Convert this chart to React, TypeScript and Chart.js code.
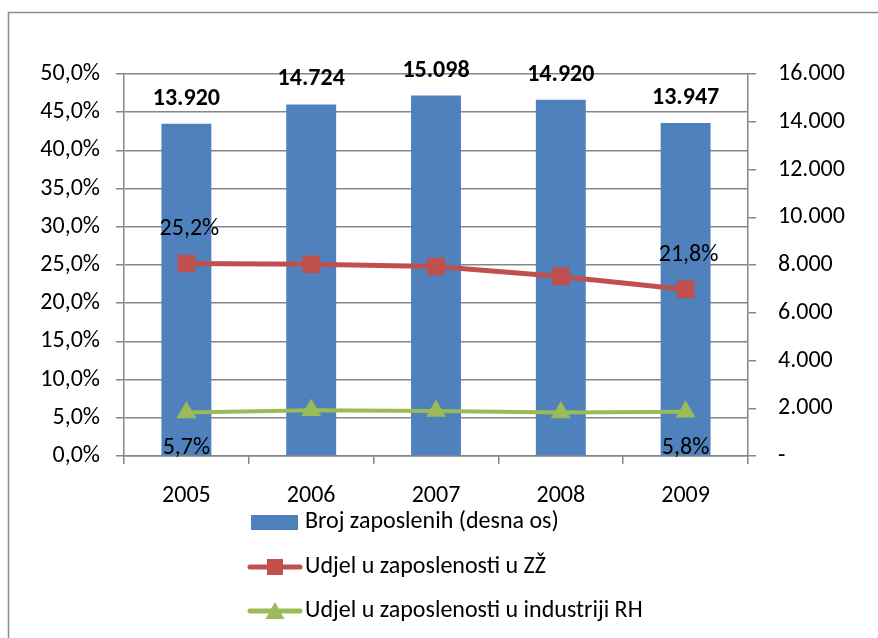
import React, { useEffect, useRef } from "react";
import { Chart, registerables } from "chart.js";

Chart.register(...registerables);

const categories = ["2005", "2006", "2007", "2008", "2009"];
const employees = [13920, 14724, 15098, 14920, 13947];
const shareZZ = [25.2, 25.1, 24.8, 23.5, 21.8];
const shareIndustry = [5.7, 6.0, 5.9, 5.7, 5.8];
const seriesNames = [
  "Broj zaposlenih (desna os)",
  "Udjel u zaposlenosti u ZŽ",
  "Udjel u zaposlenosti u industriji RH",
];
const leftTicks = [0, 5, 10, 15, 20, 25, 30, 35, 40, 45, 50];
const rightTicks = [0, 2000, 4000, 6000, 8000, 10000, 12000, 14000, 16000];

const BLUE = "#4F81BD";
const RED = "#C0504D";
const GREEN = "#9BBB59";
const GRID = "#868686";
const FONT = "Carlito, Lato, sans-serif";
const FS = 24;

const fmtPct = (v: number) => v.toFixed(1).replace(".", ",") + "%";
const fmtNum = (v: number) =>
  v === 0 ? "-" : Math.round(v).toString().replace(/\B(?=(\d{3})+(?!\d))/g, ".");

const labelsPlugin = {
  id: "customLabels",
  afterDatasetsDraw(chart: any) {
    const ctx = chart.ctx;
    ctx.save();
    ctx.fillStyle = "#000";
    ctx.textAlign = "center";
    ctx.textBaseline = "middle";
    const barMeta = chart.getDatasetMeta(0);
    ctx.font = `bold ${FS}px ${FONT}`;
    barMeta.data.forEach((el: any, i: number) => {
      ctx.fillText(fmtNum(employees[i]), el.x, el.y - 25);
    });
    ctx.font = `${FS}px ${FONT}`;
    const redMeta = chart.getDatasetMeta(1);
    [0, shareZZ.length - 1].forEach((i) => {
      const el = redMeta.data[i];
      ctx.fillText(fmtPct(shareZZ[i]), el.x + 3, el.y - 34);
    });
    const greenMeta = chart.getDatasetMeta(2);
    [0, shareIndustry.length - 1].forEach((i) => {
      const el = greenMeta.data[i];
      ctx.fillText(fmtPct(shareIndustry[i]), el.x, el.y + 36);
    });
    ctx.restore();
  },
  afterDraw(chart: any) {
    const ctx = chart.ctx;
    const w = chart.width;
    const h = chart.height;
    ctx.save();
    ctx.strokeStyle = "#8c8c8c";
    ctx.lineWidth = 1.5;
    ctx.beginPath();
    ctx.moveTo(8.5, h);
    ctx.lineTo(8.5, 12.5);
    ctx.lineTo(w, 12.5);
    ctx.stroke();
    const x0 = 250;
    const tx = 305;
    const ys = [522, 567, 611];
    ctx.font = `${FS}px ${FONT}`;
    ctx.textAlign = "left";
    ctx.textBaseline = "middle";
    ctx.fillStyle = BLUE;
    ctx.fillRect(x0 + 1, ys[0] - 7, 47, 15);
    ctx.lineCap = "round";
    ctx.strokeStyle = RED;
    ctx.lineWidth = 5;
    ctx.beginPath();
    ctx.moveTo(x0, ys[1]);
    ctx.lineTo(x0 + 50, ys[1]);
    ctx.stroke();
    ctx.fillStyle = RED;
    ctx.fillRect(x0 + 25 - 8, ys[1] - 8, 16, 16);
    ctx.strokeStyle = GREEN;
    ctx.beginPath();
    ctx.moveTo(x0, ys[2]);
    ctx.lineTo(x0 + 50, ys[2]);
    ctx.stroke();
    ctx.fillStyle = GREEN;
    ctx.beginPath();
    ctx.moveTo(x0 + 25, ys[2] - 9);
    ctx.lineTo(x0 + 25 + 9.5, ys[2] + 8);
    ctx.lineTo(x0 + 25 - 9.5, ys[2] + 8);
    ctx.closePath();
    ctx.fill();
    ctx.fillStyle = "#000";
    seriesNames.forEach((n, i) => ctx.fillText(n, tx, ys[i]));
    ctx.restore();
  },
};

export default function App() {
  const ref = useRef<HTMLCanvasElement | null>(null);
  useEffect(() => {
    if (!ref.current) return;
    const chart = new Chart(ref.current, {
      type: "bar",
      data: {
        labels: categories,
        datasets: [
          {
            type: "bar",
            label: seriesNames[0],
            data: employees,
            backgroundColor: BLUE,
            yAxisID: "y1",
            order: 2,
            categoryPercentage: 1,
            barPercentage: 0.4,
          },
          {
            type: "line",
            label: seriesNames[1],
            data: shareZZ,
            borderColor: RED,
            backgroundColor: RED,
            borderWidth: 5,
            pointStyle: "rect",
            pointRadius: 12.5,
            pointBorderWidth: 0,
            yAxisID: "y",
            order: 1,
          },
          {
            type: "line",
            label: seriesNames[2],
            data: shareIndustry,
            borderColor: GREEN,
            backgroundColor: GREEN,
            borderWidth: 4,
            pointStyle: "triangle",
            pointRadius: 11.5,
            pointBorderWidth: 0,
            yAxisID: "y",
            order: 0,
          },
        ] as any,
      },
      options: {
        animation: false,
        responsive: false,
        layout: { padding: { top: 74, left: 0, right: 0, bottom: 0 } },
        plugins: { legend: { display: false }, tooltip: { enabled: false } },
        scales: {
          x: {
            offset: true,
            grid: {
              offset: true,
              drawOnChartArea: false,
              color: GRID,
              tickLength: 8,
              lineWidth: 1.5,
            },
            border: { color: GRID, width: 1.5 },
            ticks: { color: "#000", font: { family: FONT, size: FS }, padding: 18 },
            afterFit(s: any) {
              s.height = 638 - 456;
            },
          },
          y: {
            position: "left",
            min: 0,
            max: 50,
            afterBuildTicks(s: any) {
              s.ticks = leftTicks.map((v) => ({ value: v }));
            },
            grid: { color: GRID, tickLength: 8, lineWidth: 1.5 },
            border: { color: GRID, width: 1.5 },
            ticks: {
              color: "#000",
              font: { family: FONT, size: FS },
              padding: 16,
              callback: (v: any) => fmtPct(Number(v)),
            },
            afterFit(s: any) {
              s.width = 124;
            },
          },
          y1: {
            position: "right",
            min: 0,
            max: 16000,
            afterBuildTicks(s: any) {
              s.ticks = rightTicks.map((v) => ({ value: v }));
            },
            grid: { drawOnChartArea: false, color: GRID, tickLength: 8, lineWidth: 1.5 },
            border: { color: GRID, width: 1.5 },
            ticks: {
              color: "#000",
              font: { family: FONT, size: FS },
              padding: 22,
              callback: (v: any) => fmtNum(Number(v)),
            },
            afterFit(s: any) {
              s.width = 878 - 748;
            },
          },
        },
      } as any,
      plugins: [labelsPlugin],
    });
    return () => chart.destroy();
  }, []);
  return (
    <div style={{ position: "absolute", left: 0, top: 0, width: 878, height: 638, background: "#fff" }}>
      <canvas ref={ref} width={878} height={638} style={{ width: 878, height: 638 }} />
    </div>
  );
}
